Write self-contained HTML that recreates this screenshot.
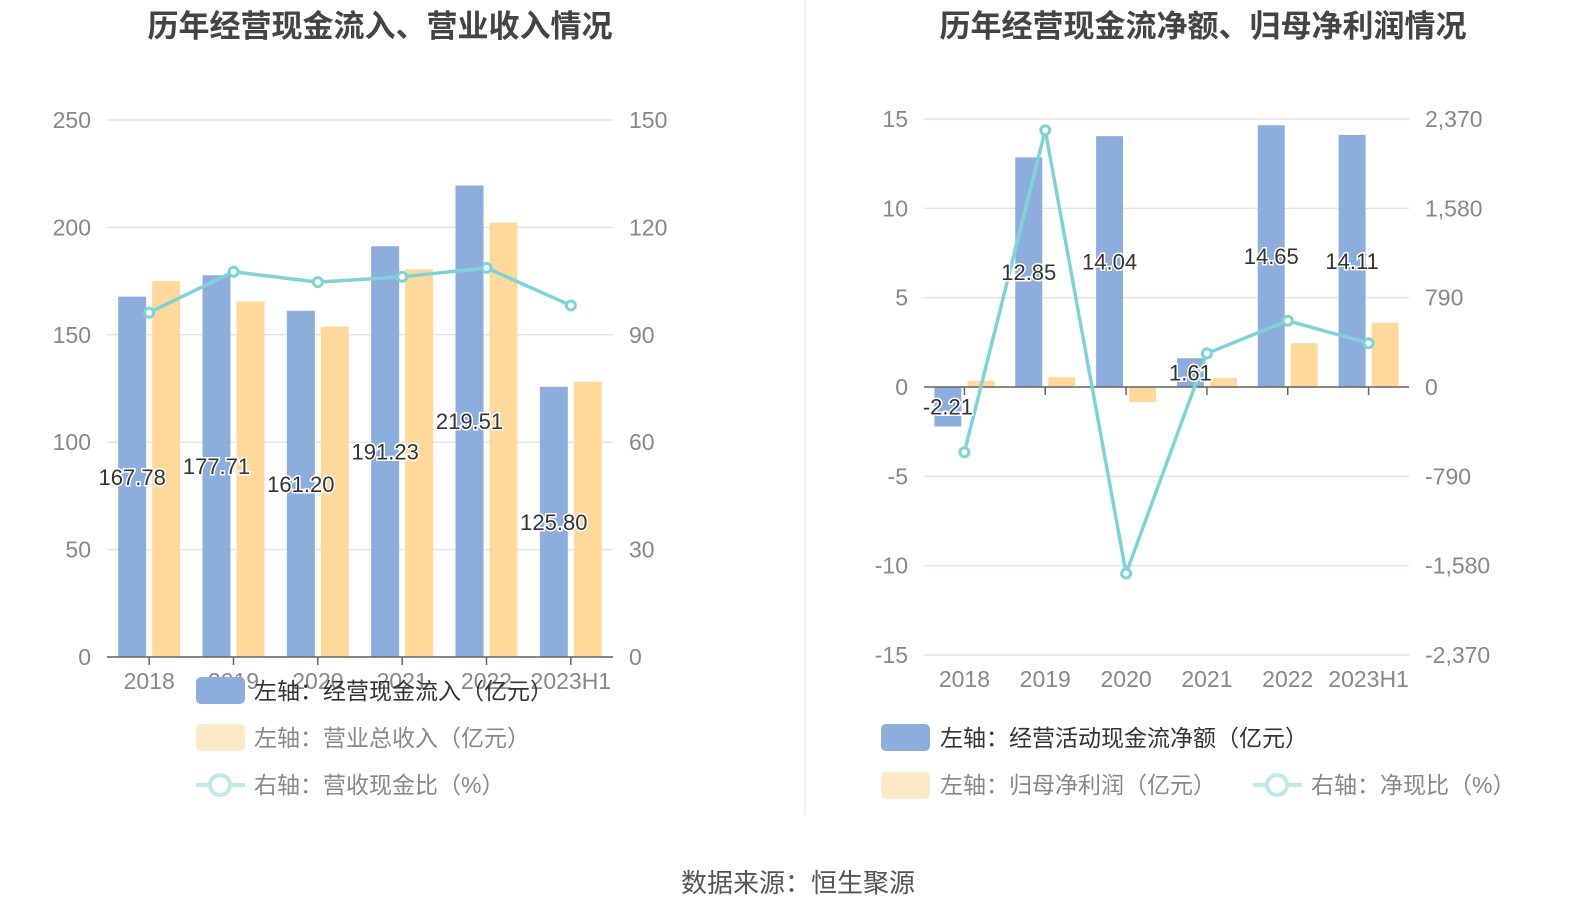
<!DOCTYPE html>
<html><head><meta charset="utf-8"><style>
body{margin:0;width:1590px;height:918px;background:#fff;overflow:hidden;font-family:"Liberation Sans","Noto Sans CJK SC",sans-serif}
svg text{font-family:"Liberation Sans","Noto Sans CJK SC",sans-serif}
.lbl{paint-order:stroke;stroke:#fff;stroke-width:3px;fill:#333;font-size:22px}
</style></head><body>
<svg id="c" width="1590" height="918">
<text x="380" y="37" text-anchor="middle" font-size="31" font-weight="bold" fill="#444">历年经营现金流入、营业收入情况</text>
<text x="1203" y="37" text-anchor="middle" font-size="31" font-weight="bold" fill="#444">历年经营现金流净额、归母净利润情况</text>
<line x1="805" y1="0" x2="805" y2="815" stroke="#eee" stroke-width="1.5"/>
<text x="798" y="892" text-anchor="middle" font-size="26" fill="#555">数据来源：恒生聚源</text>
<g id="L"></g><g id="R"></g>
<g>
<rect x="196" y="677" width="49" height="27" rx="5" fill="#8daedc"/>
<text x="254" y="699" font-size="23" fill="#333">左轴：经营现金流入（亿元）</text>
<rect x="196" y="724" width="49" height="27" rx="5" fill="#fde9c7"/>
<text x="254" y="746" font-size="23" fill="#888">左轴：营业总收入（亿元）</text>
<line x1="196" y1="785" x2="245" y2="785" stroke="#bfe8ea" stroke-width="4"/>
<circle cx="220" cy="785" r="10" fill="#fff" stroke="#bfe8ea" stroke-width="4"/>
<text x="254" y="793" font-size="23" fill="#888">右轴：营收现金比（%）</text>
</g>
<g>
<rect x="881" y="724" width="49" height="27" rx="5" fill="#8daedc"/>
<text x="940" y="746" font-size="23" fill="#333">左轴：经营活动现金流净额（亿元）</text>
<rect x="881" y="772" width="49" height="27" rx="5" fill="#fde9c7"/>
<text x="940" y="793" font-size="23" fill="#888">左轴：归母净利润（亿元）</text>
<line x1="1253" y1="785" x2="1302" y2="785" stroke="#bfe8ea" stroke-width="4"/>
<circle cx="1277" cy="785" r="10" fill="#fff" stroke="#bfe8ea" stroke-width="4"/>
<text x="1311" y="793" font-size="23" fill="#888">右轴：净现比（%）</text>
</g>
</svg>
<script>
const categories=["2018","2019","2020","2021","2022","2023H1"];
const cashInflow=[167.78,177.71,161.20,191.23,219.51,125.80];
const revenue=[175.0,165.5,153.8,180.5,202.2,128.2];
const cashRatio=[96.2,107.6,104.7,106.2,108.7,98.2];
const leftTicks=[0,50,100,150,200,250];
const leftRightTicks=[0,30,60,90,120,150];
const netCash=[-2.21,12.85,14.04,1.61,14.65,14.11];
const netProfit=[0.35,0.55,-0.85,0.5,2.45,3.6];
const netRatio=[-577,2271,-1649,297,586,387];
const rightTicks=[-15,-10,-5,0,5,10,15];
const rightRightTicks=["-2,370","-1,580","-790","0","790","1,580","2,370"];
const NS="http://www.w3.org/2000/svg";
function mk(p,tag,at,txt){const e=document.createElementNS(NS,tag);for(const k in at)e.setAttribute(k,at[k]);if(txt!==undefined)e.textContent=txt;p.appendChild(e);return e;}
function chart(g,o){
 const x0=o.x0,x1=o.x1,yT=o.yT,yB=o.yB,band=(x1-x0)/categories.length;
 const y=v=>yB-(v-o.min)/(o.max-o.min)*(yB-yT);
 const y2=v=>yB-(v-o.rmin)/(o.rmax-o.rmin)*(yB-yT);
 o.ticks.forEach((t,i)=>{const yy=y(t);
  const l=mk(g,'line',{x1:x0,x2:x1,y1:yy,y2:yy,stroke:'#e0e4f0','stroke-width':1.5});
  
  const a=mk(g,'text',{x:x0-16,y:yy+8,'text-anchor':'end','font-size':23,fill:'#888'},String(t));
  
  const b=mk(g,'text',{x:x1+16,y:yy+8,'font-size':23,fill:'#888'},String(o.rticks[i]));
  
 });
 const z=y(0);
 categories.forEach((c,i)=>{const cx=x0+band*(i+0.5);
  const v1=o.s1[i],v2=o.s2[i];
  const r1=mk(g,'rect',{x:cx-3-o.bw,y:Math.min(y(v1),z),width:o.bw,height:Math.abs(y(v1)-z),fill:'#8daedc'});
  
  const r2=mk(g,'rect',{x:cx+3,y:Math.min(y(v2),z),width:o.bw,height:Math.abs(y(v2)-z),fill:'#fed99b'});
  
  const xl=mk(g,'text',{x:cx,y:yB+32,'text-anchor':'middle','font-size':23,fill:'#888'},c);
  
  const tk=mk(g,'line',{x1:cx,x2:cx,y1:z,y2:z+8,stroke:'#666','stroke-width':1.5});
  
 });
 const ax=mk(g,'line',{x1:x0,x2:x1,y1:z,y2:z,stroke:'#666','stroke-width':1.5});
 
 const pts=categories.map((c,i)=>[x0+band*(i+0.5),y2(o.s3[i])]);
 const pl=mk(g,'polyline',{points:pts.map(p=>p.join(',')).join(' '),fill:'none',stroke:'#7fd3d6','stroke-width':3.5});
 
 pts.forEach((p,i)=>{const ci=mk(g,'circle',{cx:p[0],cy:p[1],r:4.5,fill:'#fff',stroke:'#7fd3d6','stroke-width':3});
  });
 categories.forEach((c,i)=>{const cx=x0+band*(i+0.5)-3-o.bw/2;const v=o.s1[i];
  const ly=o.labelMid?(y(v)+z)/2+8:(v<0?y(v)-6:y(v)*0+ (y(v)+z)/2+8);
  const t=mk(g,'text',{x:cx,y:ly,'text-anchor':'middle',class:'lbl'},v.toFixed(2));
  });
}
chart(document.getElementById('L'),{x0:107,x1:613,yT:120,yB:657,min:0,max:250,rmin:0,rmax:150,ticks:leftTicks,rticks:leftRightTicks,s1:cashInflow,s2:revenue,s3:cashRatio,bw:28,n1:'cash-inflow',n2:'revenue',n3:'cash-ratio',labelMid:true});
// right chart labels positioned near bar middle-ish per reference
chart(document.getElementById('R'),{x0:924,x1:1409,yT:119,yB:655,min:-15,max:15,rmin:-2370,rmax:2370,ticks:rightTicks.slice().reverse().reverse(),rticks:rightRightTicks,s1:netCash,s2:netProfit,s3:netRatio,bw:27,n1:'net-cash',n2:'net-profit',n3:'net-ratio',labelMid:true});
</script>
</body></html>
